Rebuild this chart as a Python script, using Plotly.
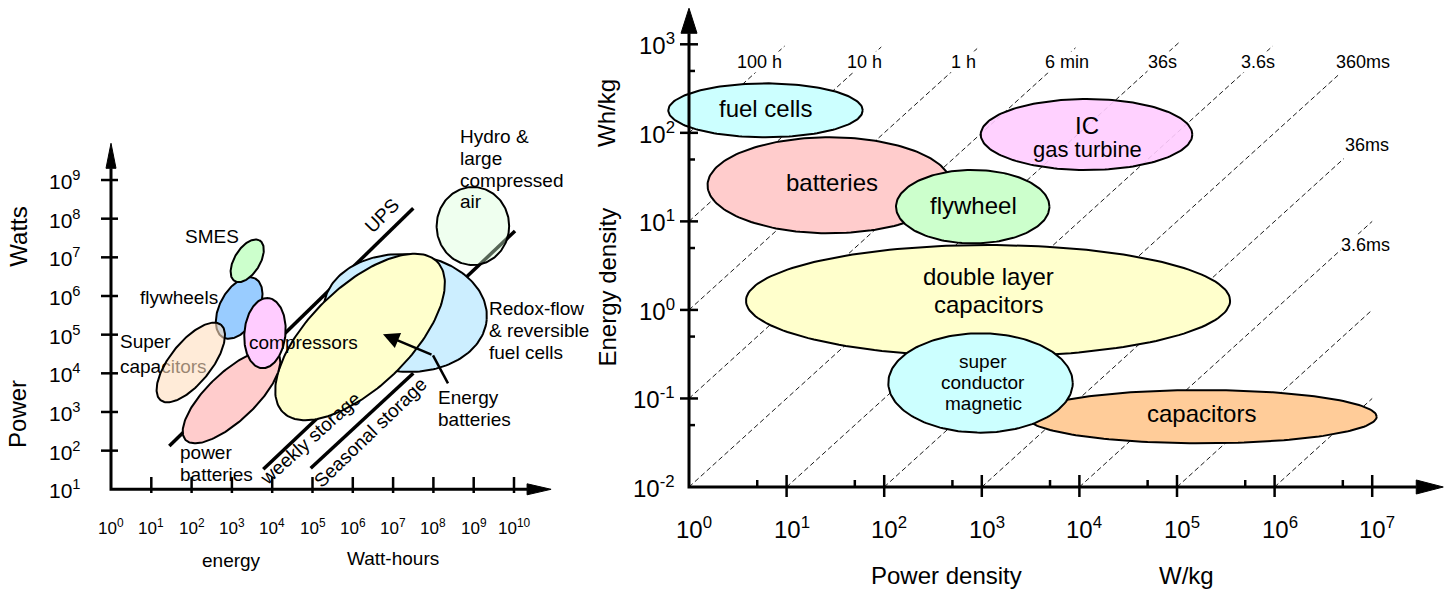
import numpy as np
import plotly.graph_objects as go

FONT = "Liberation Sans, Arial, Helvetica, sans-serif"

# ======================= LEFT PANEL (log10 units) =======================
# axes: energy [Wh] horizontally, power [W] vertically
L_xticks = [0, 1, 2, 3, 4, 5, 6, 7, 8, 9, 10]
L_yticks = [1, 2, 3, 4, 5, 6, 7, 8, 9]
L_x_end = 10.92
L_y_end = 9.95

# technology regions (ellipses): centre, semi-axes (decades), tilt (deg)
L_names = ["Redox-flow & reversible fuel cells", "Energy batteries", "power batteries",
           "flywheels", "compressors", "SMES", "Super capacitors",
           "Hydro & large compressed air"]
L_cx = [7.30, 6.18, 2.99, 3.18, 3.82, 3.38, 1.98, 8.98]
L_cy = [5.56, 4.94, 3.40, 5.69, 5.04, 6.91, 4.28, 7.81]
L_a = [2.03, 2.73, 1.60, 0.86, 0.91, 0.61, 1.23, 0.90]
L_b = [1.52, 1.27, 0.61, 0.48, 0.51, 0.32, 0.52, 1.01]
L_ang = [-5, 46, 45, 63, 85, 60, 53, 0]
L_fill = ["#cceeff", "#ffffcc", "#ffcccc", "#99ccff", "#ffccff", "#ccffcc",
          "rgba(255,222,190,0.6)", "rgba(215,255,215,0.4)"]

# storage-duration boundary lines
L_line_names = ["UPS", "weekly storage", "Seasonal storage"]
L_line_x0 = [1.447, 3.779, 4.955]
L_line_y0 = [2.120, 1.517, 1.543]
L_line_x1 = [7.501, 10.025, 7.501]
L_line_y1 = [8.269, 7.681, 4.000]
L_line_lx = [6.717, 4.938, 6.427]
L_line_ly = [8.095, 2.327, 2.482]
L_line_angle = [-45, -42, -44]

# labels of the regions
L_lab_text = [["SMES"], ["flywheels"], ["power", "batteries"], ["compressors"],
              ["Hydro &amp;", "large", "compressed", "air"],
              ["Redox-flow", "&amp; reversible", "fuel cells"], ["Energy", "batteries"]]
L_lab_x = [2.499, 1.687, 1.687, 3.400, 8.635, 9.362, 8.097]
L_lab_y = [7.552, 5.974, 1.673, 4.810, 9.280, 5.108, 3.082]
L_lab_anchor = ["center", "center", "left", "left", "left", "left", "left"]
L_super_x, L_super_y = 0.223, 4.453

# pointer of "Energy batteries"
L_ptr_x = [8.362, 7.990, 6.749]
L_ptr_y = [3.742, 4.466, 5.009]

# ======================= RIGHT PANEL (log10 units) =======================
R_xticks = [0, 1, 2, 3, 4, 5, 6, 7]
R_yticks = [-2, -1, 0, 1, 2, 3]
R_x_end = 7.728
R_y_end = 3.407

R_names = ["fuel cells", "batteries", "flywheel", "IC gas turbine",
           "double layer capacitors", "capacitors", "super conductor magnetic"]
R_cx = [0.784, 1.440, 2.907, 4.073, 3.064, 5.253, 2.987]
R_cy = [2.254, 1.408, 1.166, 1.981, 0.103, -1.206, -0.825]
R_rx = [0.996, 1.250, 0.786, 1.084, 2.480, 1.793, 0.945]
R_ry = [0.305, 0.542, 0.415, 0.401, 0.630, 0.301, 0.561]
R_fill = ["#ccffff", "#ffcccc", "#ccffcc", "rgba(255,204,255,0.9)", "#ffffcc",
          "#ffcc99", "#ccffff"]
R_lab_text = [["fuel cells"], ["batteries"], ["flywheel"], ["IC", "gas turbine"],
              ["double layer", "capacitors"], ["capacitors"], ["super", "conductor", "magnetic"]]
R_lab_x = [0.784, 1.462, 2.913, 4.081, 3.064, 5.253, 3.015]
R_lab_y = [2.279, 1.437, 1.185, 1.953, 0.215, -1.168, -0.825]

# constant discharge-time lines: log10(E/P [h])
R_dur_exp = [2, 1, 0, -1, -2, -3, -4, -5, -6, -7, -8]
R_dur_xend = [0.98, 1.97, 2.97, 3.96, 5.02, 5.98, 6.65, 6.71, 7.0, 7.0, 7.0]
R_dur_text = ["100 h", "10 h", "1 h", "6 min", "36s", "3.6s", "360ms", "36ms", "3.6ms"]
R_dur_lx = [0.963, 1.991, 2.948, 4.109, 5.013, 6.014, 7.190, 7.182, 7.190]
R_dur_ly = [2.80, 2.80, 2.80, 2.80, 2.80, 2.80, 2.80, 1.863, 0.733]

# ======================= geometry / style =======================
W, H = 1451, 589
SPLIT = 590
L_org = (111.0, 489.3); L_sx, L_sy = 40.3, 38.66
R_org = (689.0, 487.0); R_sx, R_sy = 97.6, 88.54

L_xr = [(0 - L_org[0]) / L_sx, (SPLIT - L_org[0]) / L_sx]
L_yr = [1 - (H - L_org[1]) / L_sy, 1 + L_org[1] / L_sy]
R_xr = [(SPLIT - R_org[0]) / R_sx, (W - R_org[0]) / R_sx]
R_yr = [-2 - (H - R_org[1]) / R_sy, -2 + R_org[1] / R_sy]

fig = go.Figure()


def ell(cx, cy, a, b, ang, n=181):
    t = np.linspace(0, 2 * np.pi, n)
    th = np.deg2rad(ang)
    return (cx + a * np.cos(t) * np.cos(th) - b * np.sin(t) * np.sin(th),
            cy + a * np.cos(t) * np.sin(th) + b * np.sin(t) * np.cos(th))


def line(xs, ys, ax, w=2.5, dash=None, color="black"):
    fig.add_trace(go.Scatter(x=xs, y=ys, mode="lines", xaxis=ax[0], yaxis=ax[1],
                             line=dict(color=color, width=w, dash=dash),
                             hoverinfo="skip", showlegend=False))


def tri(xs, ys, ax):
    fig.add_trace(go.Scatter(x=xs, y=ys, mode="lines", fill="toself", fillcolor="black",
                             xaxis=ax[0], yaxis=ax[1], line=dict(color="black", width=1),
                             hoverinfo="skip", showlegend=False))


def label(lines, x, y, xr, yr, size, spacing, xanchor="center", angle=0, sizes=None, bg=None):
    n = len(lines)
    for i, ln in enumerate(lines):
        fig.add_annotation(text=ln, x=x, y=y, xref=xr, yref=yr, showarrow=False,
                           xanchor=xanchor, yanchor="middle",
                           yshift=((n - 1) / 2 - i) * spacing, textangle=angle,
                           bgcolor=bg, borderpad=0,
                           font=dict(family=FONT, size=(sizes[i] if sizes else size), color="black"))


LA = ("x", "y")
RA = ("x2", "y2")

# ---------- left: boundary lines ----------
for i in range(len(L_line_names)):
    line([L_line_x0[i], L_line_x1[i]], [L_line_y0[i], L_line_y1[i]], LA, w=3.5)

# ---------- left: ellipses ----------
for i in range(len(L_names)):
    if L_names[i] == "Super capacitors":
        fig.add_trace(go.Scatter(x=[L_super_x], y=[L_super_y], mode="text",
                                 text=["Super<br>capacitors"], textposition="middle right",
                                 textfont=dict(family=FONT, size=19, color="black"),
                                 hoverinfo="skip", showlegend=False))
    ex, ey = ell(L_cx[i], L_cy[i], L_a[i], L_b[i], L_ang[i])
    fig.add_trace(go.Scatter(x=ex, y=ey, mode="lines", fill="toself", fillcolor=L_fill[i],
                             line=dict(color="black", width=2), name=L_names[i],
                             hoverinfo="skip", showlegend=False))

# ---------- left: axes ----------
hL = 24 / L_sx
line([0, 0, L_x_end - hL], [L_y_end - 25 / L_sy, 1, 1], LA, w=3)
tri([L_x_end, L_x_end - hL, L_x_end - hL, L_x_end], [1, 1 + 5.5 / L_sy, 1 - 5.5 / L_sy, 1], LA)
tri([0, -5 / L_sx, 5 / L_sx, 0], [L_y_end, L_y_end - 25 / L_sy, L_y_end - 25 / L_sy, L_y_end], LA)
tx, ty = [], []
for v in L_yticks[1:]:
    tx += [-10 / L_sx, 7 / L_sx, None]; ty += [v, v, None]
for v in L_xticks[1:]:
    tx += [v, v, None]; ty += [1 - 3.7 / L_sy, 1 + 12.3 / L_sy, None]
line(tx, ty, LA, w=2.5)

# pointer
line(L_ptr_x[:2], L_ptr_y[:2], LA, w=2.5)
fig.add_annotation(x=L_ptr_x[2], y=L_ptr_y[2], ax=L_ptr_x[1], ay=L_ptr_y[1],
                   xref="x", yref="y", axref="x", ayref="y", text="", showarrow=True,
                   arrowhead=2, arrowsize=1.3, arrowwidth=2.5, arrowcolor="black")

# left tick labels
for v in L_yticks:
    fig.add_annotation(text=f"10<sup>{v}</sup>", x=0, y=v, xref="x", yref="y", showarrow=False,
                       xanchor="right", yanchor="middle", xshift=-28,
                       font=dict(family=FONT, size=21, color="black"))
for v in L_xticks:
    fig.add_annotation(text=f"10<sup>{v}</sup>", x=v, y=1, xref="x", yref="y", showarrow=False,
                       xanchor="center", yanchor="middle", yshift=-37.7,
                       font=dict(family=FONT, size=17, color="black"))

# left labels
for i in range(len(L_lab_text)):
    label(L_lab_text[i], L_lab_x[i], L_lab_y[i], "x", "y", 19, 21.7, xanchor=L_lab_anchor[i])
for i in range(len(L_line_names)):
    label([L_line_names[i]], L_line_lx[i], L_line_ly[i], "x", "y", 19, 0, angle=L_line_angle[i])
label(["Watts"], -2.283, 7.534, "x", "y", 24, 0, angle=-90)
label(["Power"], -2.308, 2.948, "x", "y", 24, 0, angle=-90)
label(["energy"], 2.978, -0.829, "x", "y", 19, 0)
label(["Watt-hours"], 6.998, -0.777, "x", "y", 19, 0)

# ---------- right: constant-time lines ----------
for k, xe in zip(R_dur_exp, R_dur_xend):
    xs = max(0, -2 - k)
    fig.add_trace(go.Scatter(x=[xs, xe], y=[xs + k, xe + k], mode="lines", xaxis="x2", yaxis="y2",
                             line=dict(color="black", width=0.9, dash="5px,3px"),
                             hoverinfo="skip", showlegend=False))

# ---------- right: ellipses ----------
for i in range(len(R_names)):
    ex, ey = ell(R_cx[i], R_cy[i], R_rx[i], R_ry[i], 0)
    fig.add_trace(go.Scatter(x=ex, y=ey, mode="lines", fill="toself", fillcolor=R_fill[i],
                             xaxis="x2", yaxis="y2", line=dict(color="black", width=2),
                             name=R_names[i], hoverinfo="skip", showlegend=False))

# ---------- right: axes ----------
hR = 27 / R_sx
vR = 25 / R_sy
line([0, 0, R_x_end - hR], [R_y_end - vR, -2, -2], RA, w=3)
tri([R_x_end, R_x_end - hR, R_x_end - hR, R_x_end], [-2, -2 + 7 / R_sy, -2 - 7 / R_sy, -2], RA)
tri([0, -8 / R_sx, 8 / R_sx, 0], [R_y_end, R_y_end - vR, R_y_end - vR, R_y_end], RA)
m5 = np.log10(5)
tx, ty = [], []
for v in R_yticks[1:]:
    tx += [-9 / R_sx, 9 / R_sx, None]; ty += [v, v, None]
for v in R_yticks[:-1]:
    tx += [0, 6 / R_sx, None]; ty += [v + m5, v + m5, None]
for v in R_xticks[1:]:
    tx += [v, v, None]; ty += [-2 - 10 / R_sy, -2 + 12 / R_sy, None]
for v in R_xticks[:-1]:
    tx += [v + m5, v + m5, None]; ty += [-2, -2 + 7 / R_sy, None]
line(tx, ty, RA, w=2.5)

# right tick labels
for v in R_yticks:
    fig.add_annotation(text=f"10<sup>{v}</sup>", x=0, y=v, xref="x2", yref="y2", showarrow=False,
                       xanchor="right", yanchor="middle", xshift=-12,
                       font=dict(family=FONT, size=24, color="black"))
for v in R_xticks:
    fig.add_annotation(text=f"10<sup>{v}</sup>", x=v, y=-2, xref="x2", yref="y2", showarrow=False,
                       xanchor="center", yanchor="middle", yshift=-41, xshift=5,
                       font=dict(family=FONT, size=24, color="black"))

# right labels
for i in range(len(R_lab_text)):
    if R_names[i] == "super conductor magnetic":
        label(R_lab_text[i], R_lab_x[i], R_lab_y[i], "x2", "y2", 19, 21)
    elif R_names[i] == "IC gas turbine":
        label(R_lab_text[i], R_lab_x[i], R_lab_y[i], "x2", "y2", 24, 24, sizes=[24, 22])
    else:
        label(R_lab_text[i], R_lab_x[i], R_lab_y[i], "x2", "y2", 24, 28)
for i in range(len(R_dur_text)):
    label([R_dur_text[i]], R_dur_lx[i], R_dur_ly[i], "x2", "y2", 18, 0, xanchor="right", bg="white")
label(["Energy density"], -0.840, 0.253, "x2", "y2", 24, 0, angle=-90)
label(["Wh/kg"], -0.843, 2.221, "x2", "y2", 24, 0, angle=-90)
label(["Power density"], 2.643, -2.994, "x2", "y2", 24, 0)
label(["W/kg"], 5.099, -2.994, "x2", "y2", 24, 0)

fig.update_layout(
    width=W, height=H, autosize=False, margin=dict(l=0, r=0, t=0, b=0, pad=0),
    paper_bgcolor="white", plot_bgcolor="white", showlegend=False,
    xaxis=dict(domain=[0, SPLIT / W], range=L_xr, visible=False, fixedrange=True),
    yaxis=dict(domain=[0, 1], range=L_yr, visible=False, fixedrange=True),
    xaxis2=dict(domain=[SPLIT / W, 1], range=R_xr, visible=False, fixedrange=True, anchor="y2"),
    yaxis2=dict(domain=[0, 1], range=R_yr, visible=False, fixedrange=True, anchor="x2"),
)

fig.write_html("out.html", include_plotlyjs=True, config={"displayModeBar": False},
               post_script="document.body.style.margin='0px';document.body.style.overflow='hidden';")
